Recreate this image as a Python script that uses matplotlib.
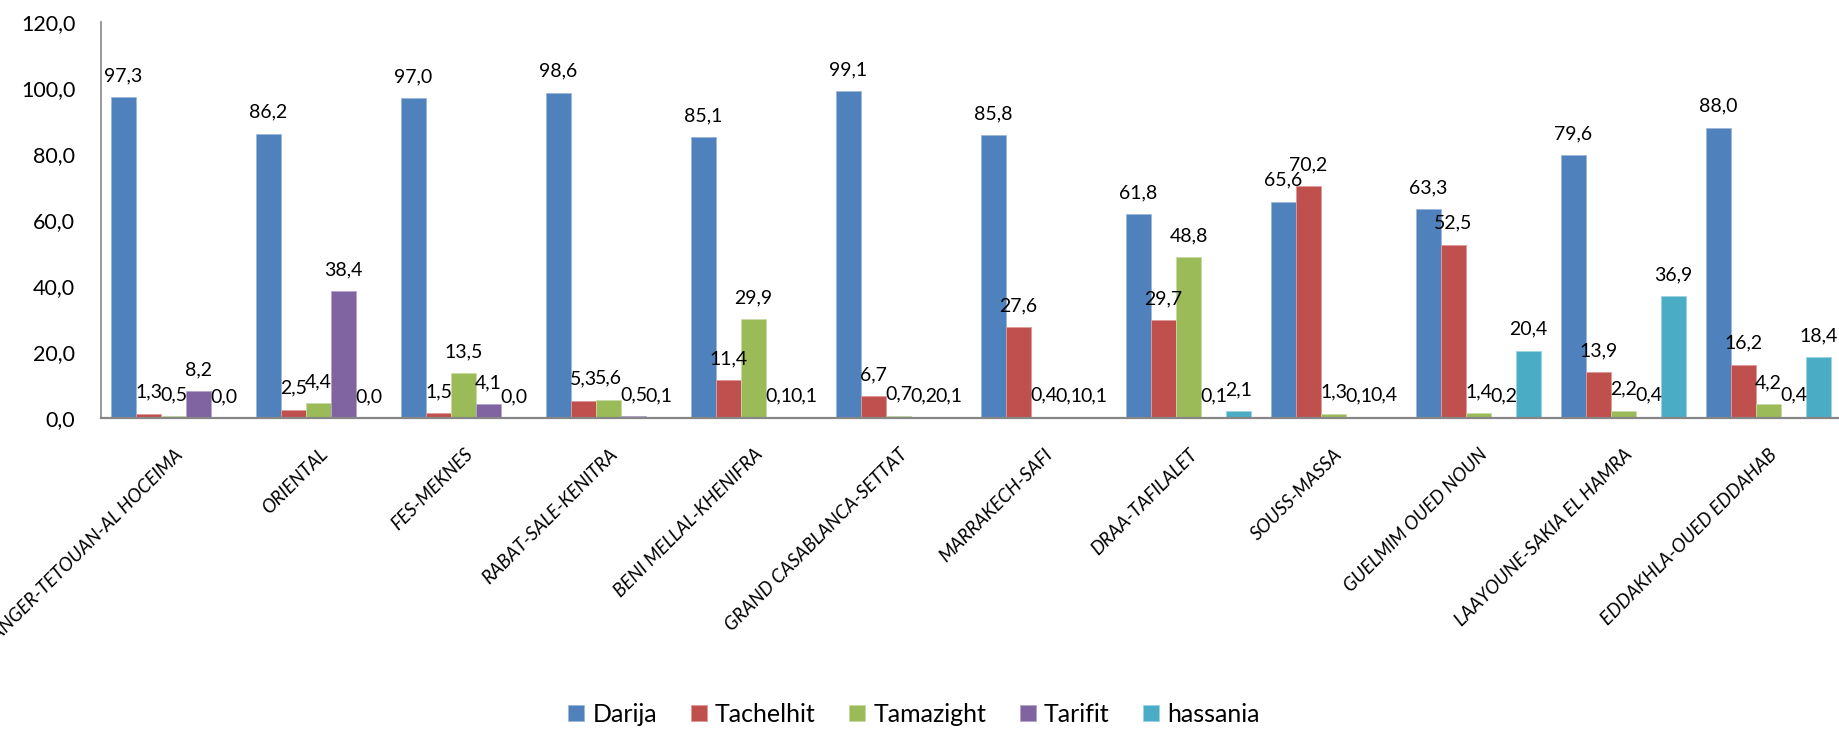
import matplotlib
matplotlib.use("Agg")
import matplotlib.pyplot as plt
import numpy as np
from matplotlib.ticker import FuncFormatter

plt.rcParams['font.family'] = ['Lato', 'DejaVu Sans']

regions = ["TANGER-TETOUAN-AL HOCEIMA", "ORIENTAL", "FES-MEKNES", "RABAT-SALE-KENITRA",
           "BENI MELLAL-KHENIFRA", "GRAND CASABLANCA-SETTAT", "MARRAKECH-SAFI",
           "DRAA-TAFILALET", "SOUSS-MASSA", "GUELMIM OUED NOUN",
           "LAAYOUNE-SAKIA EL HAMRA", "EDDAKHLA-OUED EDDAHAB"]
series_names = ["Darija", "Tachelhit", "Tamazight", "Tarifit", "hassania"]
darija = [97.3, 86.2, 97.0, 98.6, 85.1, 99.1, 85.8, 61.8, 65.6, 63.3, 79.6, 88.0]
tachelhit = [1.3, 2.5, 1.5, 5.3, 11.4, 6.7, 27.6, 29.7, 70.2, 52.5, 13.9, 16.2]
tamazight = [0.5, 4.4, 13.5, 5.6, 29.9, 0.7, 0.4, 48.8, 1.3, 1.4, 2.2, 4.2]
tarifit = [8.2, 38.4, 4.1, 0.5, 0.1, 0.2, 0.1, 0.1, 0.1, 0.2, 0.4, 0.4]
hassania = [0.0, 0.0, 0.0, 0.1, 0.1, 0.1, 0.1, 2.1, 0.4, 20.4, 36.9, 18.4]
yticks = [0, 20, 40, 60, 80, 100, 120]

colors = ["#4F81BD", "#C0504D", "#9BBB59", "#8064A2", "#4BACC6"]
edges = ["#9DB7DA", "#DD9B99", "#C8DAA6", "#B4A4C9", "#9CD3E2"]

W, H = 1839, 729
fig = plt.figure(figsize=(W / 100, H / 100), dpi=100)
ax_left, ax_right = 101, 1839
ax_top, ax_bot = 22, 418
ax = fig.add_axes([ax_left / W, 1 - ax_bot / H, (ax_right - ax_left) / W, (ax_bot - ax_top) / H])

x = np.arange(len(regions))
bw = 25 / 145
data = [darija, tachelhit, tamazight, tarifit, hassania]
for i, (name, vals) in enumerate(zip(series_names, data)):
    pos = x + (i - 2) * bw
    ax.bar(pos, vals, width=bw, color=colors[i], edgecolor=edges[i], linewidth=0.6,
           label=name, zorder=2)
    for xp, v in zip(pos, vals):
        ax.annotate(f"{v:.1f}".replace('.', ','), xy=(xp, v), xytext=(0, 11.5),
                    textcoords='offset points', ha='center', va='baseline',
                    fontsize=14, color='black', zorder=3)

ax.set_xlim(-0.5, -0.5 + (ax_right - ax_left) / 145)
ax.set_ylim(0, 120)
ax.set_yticks(yticks)
ax.yaxis.set_major_formatter(FuncFormatter(lambda v, p: f"{v:.1f}".replace('.', ',')))
ax.tick_params(axis='y', length=0, pad=18.5, labelsize=15.5)
ax.set_xticks(x)
ax.set_xticklabels(regions, rotation=45, ha='right', va='top', rotation_mode='anchor',
                   fontsize=13.5, fontstyle='italic')
ax.tick_params(axis='x', length=0, pad=20)

for s in ['top', 'right']:
    ax.spines[s].set_visible(False)
ax.spines['left'].set_color('#868686')
ax.spines['left'].set_linewidth(1.2)
ax.spines['bottom'].set_color('#868686')
ax.spines['bottom'].set_linewidth(1.6)
ax.spines['bottom'].set_zorder(4)

handles, labels = ax.get_legend_handles_labels()
fig.legend(handles, labels, loc='center', bbox_to_anchor=(914 / W, 1 - 714 / H),
           ncol=5, frameon=False, fontsize=18, handlelength=0.64, handleheight=0.6,
           handletextpad=0.32, columnspacing=1.35, borderaxespad=0, borderpad=0)

fig.savefig("out.png", dpi=100)
